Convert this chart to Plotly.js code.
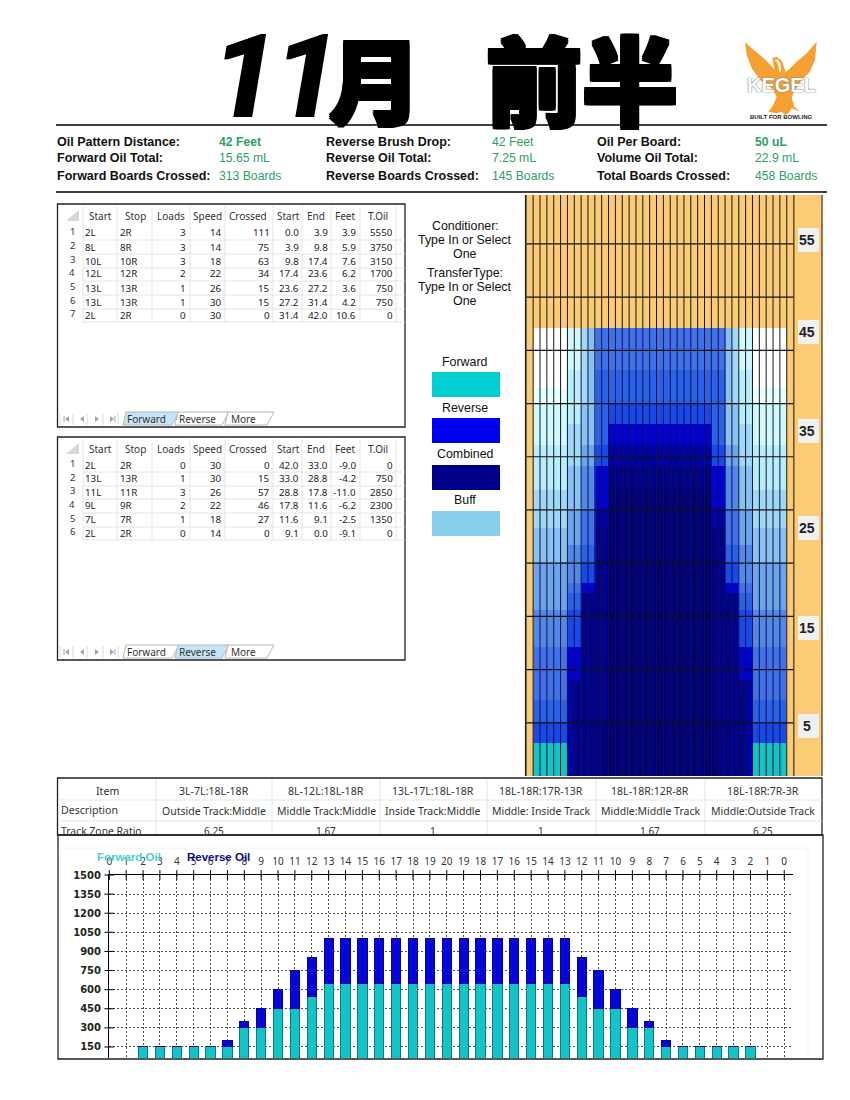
<!DOCTYPE html>
<html><head><meta charset="utf-8">
<script src="https://cdn.plot.ly/plotly-3.0.0.min.js"></script>
<style>html,body{margin:0;padding:0;background:#fff}#c{width:850px;height:1100px}</style>
</head><body><div id="c"></div>
<script>
// ---------- data ----------
var summaryLabels = [
  ["Oil Pattern Distance:", "Forward Oil Total:", "Forward Boards Crossed:"],
  ["Reverse Brush Drop:", "Reverse Oil Total:", "Reverse Boards Crossed:"],
  ["Oil Per Board:", "Volume Oil Total:", "Total Boards Crossed:"]
];
var summaryValues = [
  ["42 Feet", "15.65 mL", "313 Boards"],
  ["42 Feet", "7.25 mL", "145 Boards"],
  ["50 uL", "22.9 mL", "458 Boards"]
];
var tableHeader = ["Start", "Stop", "Loads", "Speed", "Crossed", "Start", "End", "Feet", "T.Oil"];
var forwardRows = [
  ["2L","2R","3","14","111","0.0","3.9","3.9","5550"],
  ["8L","8R","3","14","75","3.9","9.8","5.9","3750"],
  ["10L","10R","3","18","63","9.8","17.4","7.6","3150"],
  ["12L","12R","2","22","34","17.4","23.6","6.2","1700"],
  ["13L","13R","1","26","15","23.6","27.2","3.6","750"],
  ["13L","13R","1","30","15","27.2","31.4","4.2","750"],
  ["2L","2R","0","30","0","31.4","42.0","10.6","0"]
];
var reverseRows = [
  ["2L","2R","0","30","0","42.0","33.0","-9.0","0"],
  ["13L","13R","1","30","15","33.0","28.8","-4.2","750"],
  ["11L","11R","3","26","57","28.8","17.8","-11.0","2850"],
  ["9L","9R","2","22","46","17.8","11.6","-6.2","2300"],
  ["7L","7R","1","18","27","11.6","9.1","-2.5","1350"],
  ["2L","2R","0","14","0","9.1","0.0","-9.1","0"]
];
var legendNames = ["Forward", "Reverse", "Combined", "Buff"];
var legendColors = ["#00CED1", "#0000EE", "#00008B", "#87CEEB"];
var zoneItem = ["3L-7L:18L-18R","8L-12L:18L-18R","13L-17L:18L-18R","18L-18R:17R-13R","18L-18R:12R-8R","18L-18R:7R-3R"];
var zoneDesc = ["Outside Track:Middle","Middle Track:Middle","Inside Track:Middle","Middle: Inside Track","Middle:Middle Track","Middle:Outside Track"];
var zoneRatio = ["6.25","1.67","1","1","1.67","6.25"];
var laneLabels = ["55","45","35","25","15","5"];

// oil pattern: band edges along the lane (feet) and colour level of each band per board
var bandEdges = [0,3.1,5.1,7.1,9,12.1,13.7,15.6,17.2,18.1,20.1,21.7,23.3,25,26.9,29.1,31.1,33.1,35.1,36.5,38.2,40,42.1,54.6];
var levelColors = ["#FBCB75","#FFFFFF","#E6FFFF","#D0F8FF","#B8ECFF","#A0D8FC","#88C0F8","#6CA4F4","#5088F0","#4070F0","#2860F0","#1A48F0","#0000DC","#0000AA","#000090","#00007E","#12C4C8"];
var board1  = [0,0,0,0,0,0,0,0,0,0,0,0,0,0,0,0,0,0,0,0,0,0,0];
var outer   = [16,11,10,9,9,8,8,7,7,7,6,6,5,5,4,4,3,3,2,1,1,1,0];
var board7  = [13,13,13,13,12,11,11,10,9,8,8,7,7,6,6,5,5,4,4,4,3,3,0];
var board8  = [14,14,14,14,12,11,11,10,9,8,8,7,7,6,6,5,5,4,4,4,3,3,0];
var board9  = [14,14,14,14,14,14,14,14,12,11,10,9,9,8,8,7,6,6,5,5,5,5,0];
var board10 = [14,14,14,14,14,14,14,14,12,11,10,9,9,8,8,7,6,6,6,6,6,6,0];
var board11 = [14,14,14,14,14,14,14,14,14,14,14,14,13,12,12,11,10,10,10,10,9,9,0];
var board12 = [15,15,14,14,14,14,14,14,14,14,14,14,13,12,12,11,10,10,10,10,9,9,0];
var center  = [15,15,15,15,15,15,15,15,15,15,15,15,15,15,14,13,12,11,10,10,9,9,0];
var boardProfiles = [board1,outer,outer,outer,outer,outer,board7,board8,board9,board10,board11,board12,
  center,center,center,center,center,center,center,center];
var laneFeetLines = [5,10,15,20,25,30,35,40,45,50];

// stacked bars
var boardPositions = [2,3,4,5,6,7,8,9,10,11,12,13,14,15,16,17,18,19,20,21,22,23,24,25,26,27,28,29,30,31,32,33,34,35,36,37,38];
var forwardOil = [150,150,150,150,150,150,300,300,450,450,550,650,650,650,650,650,650,650,650,650,650,650,650,650,650,650,550,450,450,300,300,150,150,150,150,150,150];
var reverseOil = [0,0,0,0,0,50,50,150,150,300,300,350,350,350,350,350,350,350,350,350,350,350,350,350,350,350,300,300,150,150,50,50,0,0,0,0,0];
var boardTickVals = [0,1,2,3,4,5,6,7,8,9,10,11,12,13,14,15,16,17,18,19,20,21,22,23,24,25,26,27,28,29,30,31,32,33,34,35,36,37,38,39,40];
var boardTickText = ["0","1","2","3","4","5","6","7","8","9","10","11","12","13","14","15","16","17","18","19","20","19","18","17","16","15","14","13","12","11","10","9","8","7","6","5","4","3","2","1","0"];
var oilTicks = [150,300,450,600,750,900,1050,1200,1350,1500];

// ---------- page helpers ----------
var W = 850, H = 1100;
function PX(x){ return x / W; }
function PY(y){ return 1 - y / H; }
var anns = [], shapes = [];
function T(x, y, s, o){
  o = o || {};
  var a = {xref:"paper", yref:"paper", x:PX(x), y:PY(y), text:s, showarrow:false,
    xanchor:o.a || "left", yanchor:"middle", borderpad:0, borderwidth:0,
    font:{family:o.f || "Liberation Sans, Arial", size:o.s || 12, color:o.c || "#000", weight:o.w || 400,
          style:o.st || "normal", shadow:o.sh || "none"}};
  if (o.bg) a.bgcolor = o.bg;
  anns.push(a);
}
function R(x0, y0, x1, y1, fill, line, lw){
  shapes.push({type:"rect", xref:"paper", yref:"paper", x0:PX(x0), x1:PX(x1), y0:PY(y0), y1:PY(y1),
    fillcolor:fill || "rgba(0,0,0,0)", line:{color:line || "rgba(0,0,0,0)", width:line ? (lw || 1) : 0}, layer:"above"});
}
function L(x0, y0, x1, y1, c, w){
  shapes.push({type:"line", xref:"paper", yref:"paper", x0:PX(x0), x1:PX(x1), y0:PY(y0), y1:PY(y1),
    line:{color:c, width:w || 1}, layer:"above"});
}
function P(pts, fill, line){
  var d = pts.map(function(p, i){ return (i ? "L" : "M") + PX(p[0]) + "," + PY(p[1]); }).join(" ") + " Z";
  shapes.push({type:"path", xref:"paper", yref:"paper", path:d, fillcolor:fill,
    line:{color:line || "rgba(0,0,0,0)", width:line ? 1 : 0}, layer:"above"});
}

// ---------- title ----------
var tShadow = "2px 0 0 #000,-2px 0 0 #000,0 2px 0 #000,0 -2px 0 #000,2px 2px 0 #000,-2px -2px 0 #000,2px -2px 0 #000,-2px 2px 0 #000";
var digitShadow = "2px 0 0 #000,-1px 0 0 #000,1px 0 0 #000";
var cjk = "Noto Sans CJK JP, Noto Sans CJK SC";
T(245, 77, "1", {a:"center", f:"Roboto, Liberation Sans", s:116, w:700, st:"italic", sh:digitShadow});
T(306, 77, "1", {a:"center", f:"Roboto, Liberation Sans", s:116, w:700, st:"italic", sh:digitShadow});
T(375, 76, "月", {a:"center", f:cjk, s:92, w:900, sh:tShadow});
T(582, 76, "前半", {a:"center", f:cjk, s:96, w:900, sh:tShadow});

// ---------- logo ----------
function Z(p){ return [735 + p[0] / 3, 30 + p[1] / 3]; }
P([[30,36],[50,55],[75,75],[100,98],[118,118],[112,85],[125,80],[140,92],[147,110],[152,125],[160,120],[185,95],[215,70],[245,35],[240,90],[225,125],[200,150],[175,190],[170,205],[178,230],[195,245],[170,235],[160,250],[150,255],[140,245],[125,250],[100,245],[115,225],[125,200],[110,175],[75,150],[50,115],[35,75]].map(Z), "#F5A033");
P([[118,92],[128,88],[136,100],[138,125],[133,125],[130,105],[124,94]].map(Z), "#FFFFFF");
T(781, 85, "KEGEL", {a:"center", s:20, w:700, c:"#fff", sh:"0 0 1.5px #777,0 0 1px #777"});
T(781, 117, "BUILT FOR BOWLING", {a:"center", f:"Liberation Sans", s:6, w:700, c:"#222"});

// ---------- summary ----------
L(56, 125, 827, 125, "#000", 1.4);
L(56, 192, 827, 192, "#000", 1.4);
var sumLabelX = [57, 326, 597], sumValueX = [219, 492, 755], sumY = [141.5, 158.5, 176];
summaryLabels.forEach(function(col, c){
  col.forEach(function(t, r){
    T(sumLabelX[c], sumY[r], t, {s:12.5, w:700, c:"#111"});
    var boldVal = r === 0 && c !== 1;
    T(sumValueX[c], sumY[r] - (r === 0 ? 0 : 0.5), summaryValues[c][r], {s:12.2, w:boldVal ? 700 : 400, c:"#2E9E63"});
  });
});

// ---------- Excel-like tables ----------
var tf = "Noto Sans, Liberation Sans";
var grid = "#D9DEE3";
var sepX = [83,117,152,190,225,273,302,331,360,396];
var headX = [100,135,171,207,248,288,316,345,378];
var cellX = [85,120,186,222,270,299,328,356,393];
var cellA = ["left","left","right","right","right","right","right","right","right"];
function drawTable(top, bottom, headY, rowY, rows, tabActive){
  R(57.5, top, 405, bottom, "#fff", "#222", 1.3);
  sepX.forEach(function(x){ L(x, top + 2, x, rowY[rows.length - 1] + 7, grid, 0.8); });
  rowY.forEach(function(y){ L(83, y + 7, 405, y + 7, grid, 0.8); });
  P([[66, headY + 5],[79, headY + 5],[79, headY - 6]], "#D5D8DB");
  tableHeader.forEach(function(h, i){ T(headX[i], headY, h, {a:"center", f:tf, s:10, c:"#333"}); });
  rows.forEach(function(row, r){
    T(72, rowY[r] - 1.5, String(r + 1), {a:"center", f:tf, s:9.5, c:"#333"});
    row.forEach(function(v, i){ T(cellX[i], rowY[r], v, {a:cellA[i], f:tf, s:9.8, c:"#222"}); });
  });
  var ty = bottom - 8;
  [[123,175,"Forward",146],[175,225,"Reverse",197],[225,270,"More",243]].forEach(function(t, i){
    var on = i === tabActive;
    P([[t[0], ty + 6],[t[0] + 3, ty - 7],[t[1] + 4, ty - 7],[t[1] - 3, ty + 6]], on ? "#C5E6F7" : "#fff", "#B4B8BC");
    T(t[3], ty, t[2], {a:"center", f:tf, s:10, c:"#333"});
  });
  // sheet navigation buttons
  [60,74,90,105].forEach(function(x){ L(x + 13, ty - 6, x + 13, ty + 6, "#D0D0D0", 0.8); });
  L(60, ty - 6, 60, ty + 6, "#D0D0D0", 0.8);
  P([[69, ty - 3],[69, ty + 3],[65, ty]], "#A0A4A8"); L(64, ty - 3, 64, ty + 3, "#A0A4A8", 1);
  P([[84, ty - 3],[84, ty + 3],[80, ty]], "#A0A4A8");
  P([[95, ty - 3],[95, ty + 3],[99, ty]], "#A0A4A8");
  P([[110, ty - 3],[110, ty + 3],[114, ty]], "#A0A4A8"); L(115, ty - 3, 115, ty + 3, "#A0A4A8", 1);
}
drawTable(204, 427, 216, [233,247,261,274,288,302,315], forwardRows, 0);
drawTable(437, 660, 449, [465,479,492,506,520,533], reverseRows, 1);

// ---------- middle notes and legend ----------
[["Conditioner:",226],["Type In or Select",240],["One",254],["TransferType:",273],["Type In or Select",287],["One",301]].forEach(function(n){
  T(465, n[1], n[0], {a:"center", s:12.4, c:"#111"});
});
var legLabelY = [362,408,454,500], legBoxY = [372,418,465,511];
legendNames.forEach(function(n, i){
  T(465, legLabelY[i], n, {a:"center", s:12.4, c:"#111"});
  R(432, legBoxY[i], 500, legBoxY[i] + 25, legendColors[i]);
});

// ---------- lane decorations ----------
R(794, 195, 822, 776, "#FBCB75");
L(525.5, 195, 525.5, 776, "#222", 1.2);
L(794, 195, 794, 776, "#7A5A20", 1.2);
L(822, 195, 822, 776, "#5A4A30", 1.4);
for (var bi = 0; bi <= 39; bi++) {
  shapes.push({type:"line", xref:"x", yref:"y", x0:bi + 0.5, x1:bi + 0.5, y0:0, y1:54.6, line:{color:"#181818", width:1}, layer:"above"});
}
laneFeetLines.forEach(function(f){
  shapes.push({type:"line", xref:"x", yref:"y", x0:0.5, x1:39.5, y0:f, y1:f, line:{color:"#111", width:1.2}, layer:"above"});
});
var laneLabelY = [240,332,431,528,628,726];
laneLabels.forEach(function(t, i){
  R(798, laneLabelY[i] - 12, 819, laneLabelY[i] + 12, "#F0F0F0");
  T(806.5, laneLabelY[i], t, {a:"center", s:14, w:700, c:"#222"});
});

// ---------- track zone table ----------
var zoneSep = [156,272,380,487,596,705];
var zoneCx = [214,326,433,541,650,763];
R(57.5, 778, 822, 835, "#fff", "#222", 1.3);
zoneSep.forEach(function(x){ L(x, 779, x, 834, grid, 0.8); });
L(58, 800, 822, 800, grid, 0.8);
L(58, 821, 822, 821, grid, 0.8);
T(107, 791, "Item", {a:"center", f:tf, s:10.6, c:"#333"});
T(61, 810, "Description", {f:tf, s:10.6, c:"#333"});
T(61, 831, "Track Zone Ratio", {f:tf, s:10.4, c:"#333"});
zoneCx.forEach(function(x, i){
  T(x, 791, zoneItem[i], {a:"center", f:tf, s:10.6, c:"#333"});
  T(x, 811, zoneDesc[i], {a:"center", f:tf, s:10.5, c:"#333"});
  T(x, 831, zoneRatio[i], {a:"center", f:tf, s:10, c:"#333"});
});

// ---------- bar chart frame ----------
R(58, 835, 823, 1059, "rgba(0,0,0,0)", "#222", 1.3);
shapes.unshift({type:"rect", xref:"paper", yref:"paper", x0:PX(60), x1:PX(808), y0:PY(848), y1:PY(1058), line:{color:"#F2F2F2", width:1}, layer:"below"});
T(97, 857, "Forward Oil", {s:11.5, w:700, c:"#45D3D3"});
T(187, 857, "Reverse Oil", {s:11.5, w:700, c:"#0A0A90"});

// ---------- traces ----------
var zRows = bandEdges.slice(1).map(function(_, r){
  var row = [];
  for (var i = 1; i <= 39; i++) {
    var b = i <= 20 ? i : 40 - i;
    row.push(boardProfiles[b - 1][r]);
  }
  return row;
});
var xEdges = [];
for (var e = 0; e <= 39; e++) xEdges.push(e + 0.5);
var scale = [];
levelColors.forEach(function(c, i){
  scale.push([i / levelColors.length, c]);
  scale.push([(i + 1) / levelColors.length, c]);
});
var traces = [
  {type:"heatmap", x:xEdges, y:bandEdges, z:zRows, zmin:-0.5, zmax:levelColors.length - 0.5,
   colorscale:scale, showscale:false, hoverinfo:"skip", xaxis:"x", yaxis:"y", zsmooth:false},
  {type:"bar", x:boardPositions, y:forwardOil, name:"Forward Oil", width:0.55, xaxis:"x2", yaxis:"y2",
   marker:{color:"#12C4C8", line:{color:"#0C7A80", width:1}}, hoverinfo:"skip"},
  {type:"bar", x:boardPositions, y:reverseOil, name:"Reverse Oil", width:0.55, xaxis:"x2", yaxis:"y2",
   marker:{color:"#0606D8", line:{color:"#050590", width:1}}, hoverinfo:"skip"},
  // tick marks that cross the axis lines
  {type:"scatter", mode:"markers", x:boardTickVals, y:boardTickVals.map(function(){ return 1500; }), xaxis:"x2", yaxis:"y2",
   cliponaxis:false, marker:{symbol:"line-ns", size:7, line:{color:"#000", width:1}}, hoverinfo:"skip"},
  {type:"scatter", mode:"markers", x:oilTicks.map(function(){ return 0; }), y:oilTicks, xaxis:"x2", yaxis:"y2",
   cliponaxis:false, marker:{symbol:"line-ew", size:7, line:{color:"#000", width:1}}, hoverinfo:"skip"}
];
var layout = {
  width:W, height:H, margin:{l:0, r:0, t:0, b:0}, paper_bgcolor:"#fff", plot_bgcolor:"rgba(0,0,0,0)",
  showlegend:false, barmode:"stack", bargap:0,
  xaxis:{domain:[PX(526.3), PX(793.6)], range:[0.5,39.5], visible:false, fixedrange:true},
  yaxis:{domain:[PY(776), PY(195)], range:[0,54.6], visible:false, fixedrange:true},
  xaxis2:{domain:[PX(109.3), PX(793)], range:[0,40.52], anchor:"y2", side:"top", tickmode:"array",
    tickvals:boardTickVals, ticktext:boardTickText, ticks:"outside", ticklen:5, tickwidth:1, tickcolor:"rgba(0,0,0,0)",
    showline:true, linecolor:"#000", linewidth:1.3, showgrid:true, gridcolor:"#222", griddash:"2px,2px", gridwidth:0.8,
    tickfont:{family:tf, size:10, color:"#333"}, zeroline:false, fixedrange:true},
  yaxis2:{domain:[PY(1058), PY(875)], range:[63.4,1500], anchor:"x2", tickmode:"array", tickvals:oilTicks,
    ticktext:oilTicks.map(String), ticks:"outside", ticklen:5, tickwidth:1, tickcolor:"rgba(0,0,0,0)",
    showline:true, linecolor:"#000", linewidth:1.3, showgrid:true, gridcolor:"#222", griddash:"2px,2px", gridwidth:0.8,
    tickfont:{family:"DejaVu Sans", size:10, color:"#222", weight:700}, zeroline:false, fixedrange:true},
  shapes:shapes, annotations:anns
};
Plotly.newPlot("c", traces, layout, {displayModeBar:false, staticPlot:true, responsive:false});
</script></body></html>
